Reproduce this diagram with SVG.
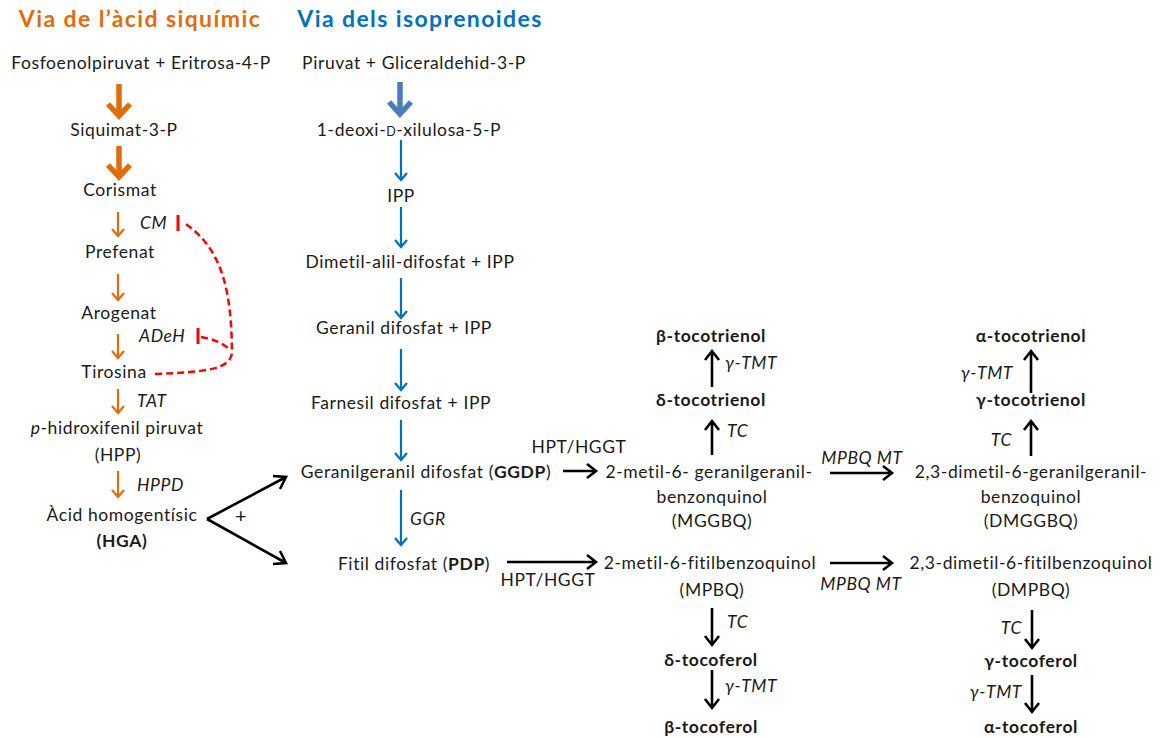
<svg xmlns="http://www.w3.org/2000/svg" width="1163" height="738" viewBox="0 0 1163 738">
<style>
  text { font-family: Lato, "Open Sans", "Liberation Sans", sans-serif; font-size: 17.5px; letter-spacing: 0.6px; font-variant-ligatures: none; fill: #1a1a1a; text-anchor: middle; }
  .title { font-size: 23px; letter-spacing: 1.4px; font-weight: bold; }
  .or { fill: #E36C0A; }
  .bl { fill: #0070C0; }
  .b { font-weight: bold; }
  .i { font-style: italic; }
  .st { text-anchor: start; }
  .en { text-anchor: end; }
  .sc { font-size: 12.5px; }
  .plus { font-size: 20px; }
  .a-or-thick { fill: none; stroke: #E36C0A; stroke-width: 5.5; }
  .a-or { fill: none; stroke: #E36C0A; stroke-width: 2.2; }
  .a-bl-thick { fill: none; stroke: #4A7EBB; stroke-width: 5.5; }
  .a-bl { fill: none; stroke: #0070C0; stroke-width: 2.2; }
  .a-k { fill: none; stroke: #000; stroke-width: 2.6; }
  .inh { fill: none; stroke: #FF0000; stroke-width: 2.5; stroke-dasharray: 7 4; }
  .bar { fill: none; stroke: #FF0000; stroke-width: 3; }
</style>

<!-- pathway headings -->
<text class="title or" x="140" y="27">Via de l’àcid siquímic</text>
<text class="title bl" x="420" y="27">Via dels isoprenoides</text>

<!-- shikimate pathway -->
<g id="fosfoenolpiruvat"><text x="141" y="69">Fosfoenolpiruvat + Eritrosa-4-P</text></g>
<g id="siquimat"><text x="124" y="136">Siquimat-3-P</text></g>
<g id="corismat"><text x="120" y="196">Corismat</text></g>
<g id="prefenat"><text x="120" y="258">Prefenat</text></g>
<g id="arogenat"><text x="119" y="319">Arogenat</text></g>
<g id="tirosina"><text x="114" y="378">Tirosina</text></g>
<g id="hpp"><text x="117" y="434"><tspan class="i">p</tspan>-hidroxifenil piruvat</text><text x="118" y="461">(HPP)</text></g>
<g id="hga"><text x="122" y="521">Àcid homogentísic</text><text class="b" x="122" y="547">(HGA)</text></g>

<!-- isoprenoid pathway -->
<g id="piruvat"><text x="414" y="69">Piruvat + Gliceraldehid-3-P</text></g>
<g id="dxp"><text x="409" y="136">1-deoxi-<tspan class="sc">D</tspan>-xilulosa-5-P</text></g>
<g id="ipp"><text x="401" y="202">IPP</text></g>
<g id="dmapp"><text x="410" y="268">Dimetil-alil-difosfat + IPP</text></g>
<g id="gpp"><text x="404" y="334">Geranil difosfat + IPP</text></g>
<g id="fpp"><text x="401" y="409">Farnesil difosfat + IPP</text></g>
<g id="ggdp"><text x="426" y="478">Geranilgeranil difosfat (<tspan class="b">GGDP</tspan>)</text></g>
<g id="pdp"><text x="414" y="570">Fitil difosfat (<tspan class="b">PDP</tspan>)</text></g>

<!-- benzoquinol intermediates -->
<g id="mggbq"><text x="709" y="478">2-metil-6- geranilgeranil-</text><text x="712" y="503">benzonquinol</text><text x="712" y="527">(MGGBQ)</text></g>
<g id="mpbq"><text x="710" y="569">2-metil-6-fitilbenzoquinol</text><text x="712" y="596">(MPBQ)</text></g>
<g id="dmggbq"><text x="1031" y="478">2,3-dimetil-6-geranilgeranil-</text><text x="1031" y="503">benzoquinol</text><text x="1031" y="527">(DMGGBQ)</text></g>
<g id="dmpbq"><text x="1031" y="569">2,3-dimetil-6-fitilbenzoquinol</text><text x="1031" y="596">(DMPBQ)</text></g>

<!-- tocochromanols -->
<g id="beta-tocotrienol"><text class="b" x="711" y="342">β-tocotrienol</text></g>
<g id="delta-tocotrienol"><text class="b" x="711" y="406">δ-tocotrienol</text></g>
<g id="alpha-tocotrienol"><text class="b" x="1031" y="342">α-tocotrienol</text></g>
<g id="gamma-tocotrienol"><text class="b" x="1031" y="406">γ-tocotrienol</text></g>
<g id="delta-tocoferol"><text class="b" x="711" y="666">δ-tocoferol</text></g>
<g id="beta-tocoferol"><text class="b" x="711" y="733">β-tocoferol</text></g>
<g id="gamma-tocoferol"><text class="b" x="1031" y="667">γ-tocoferol</text></g>
<g id="alpha-tocoferol"><text class="b" x="1031" y="733">α-tocoferol</text></g>

<g id="connectors">
  <!-- shikimate pathway arrows -->
  <path class="a-or-thick" d="M119 84 V116 M108 104 L119 116 L130 104"/>
  <path class="a-or-thick" d="M119 146 V177 M108 165 L119 177 L130 165"/>
  <path class="a-or" d="M118 212 V236 M112 229 L118 236 L124 229"/>
  <path class="a-or" d="M118 274 V300 M112 293 L118 300 L124 293"/>
  <path class="a-or" d="M118 334 V358 M112 351 L118 358 L124 351"/>
  <path class="a-or" d="M118 389 V413 M112 406 L118 413 L124 406"/>
  <path class="a-or" d="M118 471 V497 M112 490 L118 497 L124 490"/>
  <text class="i st" x="140" y="229">CM</text>
  <text class="i st" x="139" y="342">ADeH</text>
  <text class="i st" x="137" y="407">TAT</text>
  <text class="i st" x="137" y="491">HPPD</text>

  <!-- tyrosine feedback inhibition -->
  <path class="inh" d="M155 374 C205 372 233 370 232 350 C231 300 226 250 184 223"/>
  <path class="inh" d="M201 337 Q220 340 230 350"/>
  <path class="bar" d="M178 215 V231"/>
  <path class="bar" d="M198 328 V344"/>

  <!-- HGA condensation -->
  <path class="a-k" d="M207 519 L286 477 M273 476 L286 477 L280 489"/>
  <path class="a-k" d="M207 519 L286 563 M280 551 L286 563 L273 564"/>
  <text class="plus" x="241" y="523">+</text>

  <!-- isoprenoid arrows -->
  <path class="a-bl-thick" d="M400 82 V114 M389 102 L400 114 L411 102"/>
  <path class="a-bl" d="M401 140 V180 M395 173 L401 180 L407 173"/>
  <path class="a-bl" d="M401 207 V247 M395 240 L401 247 L407 240"/>
  <path class="a-bl" d="M401 278 V318 M395 311 L401 318 L407 311"/>
  <path class="a-bl" d="M401 349 V390 M395 383 L401 390 L407 383"/>
  <path class="a-bl" d="M401 420 V460 M395 453 L401 460 L407 453"/>
  <path class="a-bl" d="M401 490 V545 M395 538 L401 545 L407 538"/>
  <text class="i st" x="410" y="525">GGR</text>

  <!-- prenyltransferase steps -->
  <path class="a-k" d="M563 471 H596 M587 464 L596 471 L587 478"/>
  <text x="579" y="453">HPT/HGGT</text>
  <path class="a-k" d="M507 562 H596 M587 555 L596 562 L587 569"/>
  <text x="548" y="586">HPT/HGGT</text>

  <!-- methyltransferase steps -->
  <path class="a-k" d="M830 473 H892 M883 466 L892 473 L883 480"/>
  <text class="i" x="862" y="464">MPBQ MT</text>
  <path class="a-k" d="M830 563 H892 M883 556 L892 563 L883 570"/>
  <text class="i" x="861" y="590">MPBQ MT</text>

  <!-- cyclase and gamma-TMT steps, column 3 -->
  <path class="a-k" d="M712 455 V421 M705 430 L712 421 L719 430"/>
  <text class="i st" x="727" y="437">TC</text>
  <path class="a-k" d="M712 387 V351 M705 360 L712 351 L719 360"/>
  <text class="i st" x="725" y="369">γ-TMT</text>
  <path class="a-k" d="M712 608 V645 M705 636 L712 645 L719 636"/>
  <text class="i st" x="727" y="628">TC</text>
  <path class="a-k" d="M712 670 V708 M705 699 L712 708 L719 699"/>
  <text class="i st" x="725" y="692">γ-TMT</text>

  <!-- cyclase and gamma-TMT steps, column 4 -->
  <path class="a-k" d="M1031 456 V421 M1024 430 L1031 421 L1038 430"/>
  <text class="i en" x="1012" y="446">TC</text>
  <path class="a-k" d="M1031 393 V351 M1024 360 L1031 351 L1038 360"/>
  <text class="i en" x="1013" y="379">γ-TMT</text>
  <path class="a-k" d="M1032 610 V648 M1025 639 L1032 648 L1039 639"/>
  <text class="i en" x="1022" y="634">TC</text>
  <path class="a-k" d="M1032 675 V712 M1025 703 L1032 712 L1039 703"/>
  <text class="i en" x="1022" y="698">γ-TMT</text>
</g>
</svg>
